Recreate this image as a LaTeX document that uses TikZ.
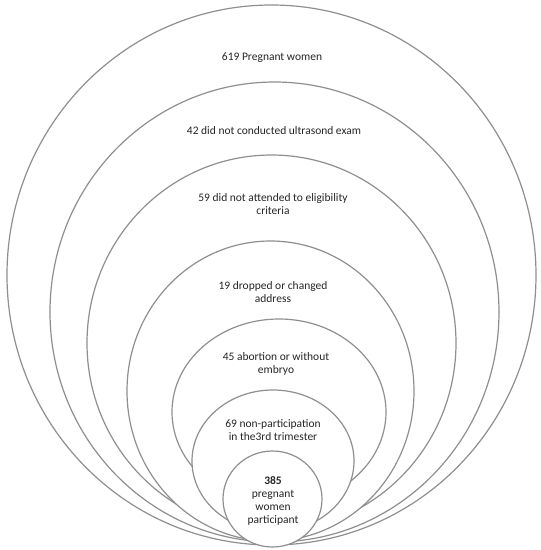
\documentclass[tikz,border=0pt]{standalone}
\usepackage{fontspec}
\setmainfont{Carlito}
\usetikzlibrary{shapes.geometric}
\definecolor{ringgray}{HTML}{8F8F8F}
\definecolor{txtgray}{HTML}{262626}
\tikzset{
  ring/.style={ellipse, draw=ringgray, line width=1.2pt, fill=white, inner sep=0pt},
  lbl/.style={align=center, text=txtgray, inner sep=0pt, font=\fontsize{11.5}{13}\selectfont}
}
\begin{document}
\begin{tikzpicture}[x=1pt,y=-1pt]
\useasboundingbox (0,0) rectangle (541,550);
\node[ring, minimum width=529pt, minimum height=540pt] (e1) at (271.5,275) {};
\node[ring, minimum width=449pt, minimum height=460pt] (e2) at (274.5,312) {};
\node[ring, minimum width=369pt, minimum height=376pt] (e3) at (271.5,343) {};
\node[ring, minimum width=287pt, minimum height=300pt] (e4) at (270.5,391) {};
\node[ring, minimum width=214pt, minimum height=186pt] (e5) at (279,412) {};
\node[ring, minimum width=162pt, minimum height=142pt] (e6) at (273,461) {};
\node[ring, minimum width=99pt, minimum height=96pt] (e7) at (272.5,499) {};
\node[lbl] (t1) at (272,58) {619 Pregnant women};
\node[lbl] (t2) at (274,131) {42 did not conducted ultrasond exam};
\node[lbl] (t3) at (273,204) {59 did not attended to eligibility\\criteria};
\node[lbl] (t4) at (273,292) {19 dropped or changed\\address};
\node[lbl] (t5) at (276,364) {45 abortion or without\\embryo};
\node[lbl] (t6) at (273,430) {69 non-participation\\in the3rd trimester};
\node[lbl] (t7) at (273,501) {\textbf{385}\\pregnant\\women\\participant};
\end{tikzpicture}
\end{document}
